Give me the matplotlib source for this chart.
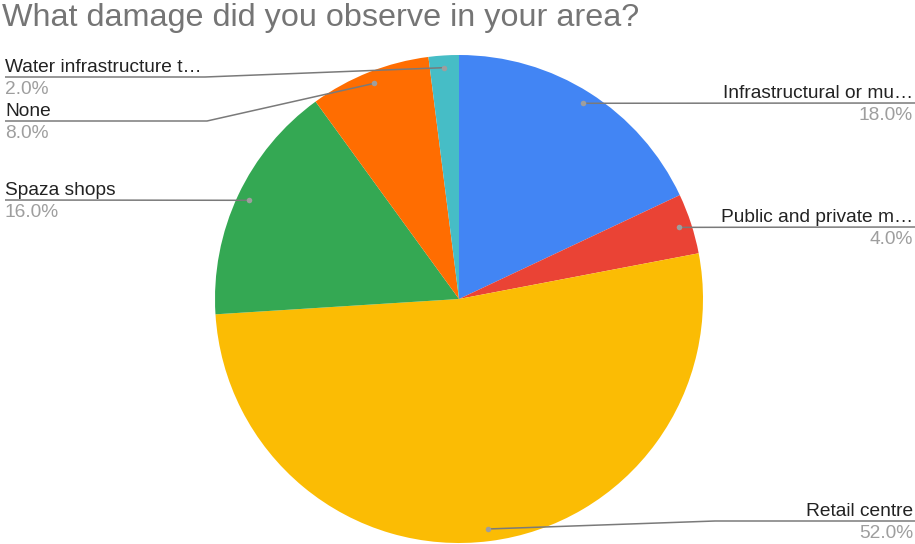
import numpy as np
import matplotlib.pyplot as plt

plt.rcParams['font.family'] = ['Liberation Sans', 'DejaVu Sans']

labels = ["Infrastructural or mu…", "Public and private m…", "Retail centre",
          "Spaza shops", "None", "Water infrastructure t…"]
values = [18.0, 4.0, 52.0, 16.0, 8.0, 2.0]
colors = ["#4285F4", "#EA4335", "#FBBC04", "#34A853", "#FF6D01", "#46BDC6"]

W, H = 915, 544
fig = plt.figure(figsize=(W / 100, H / 100), dpi=100)
ax = fig.add_axes([0, 0, 1, 1])
ax.set_xlim(0, W)
ax.set_ylim(0, H)
ax.set_aspect('equal')
ax.axis('off')

cx, cy, r = 459, H - 299, 244
ax.pie(values, colors=colors, startangle=90, counterclock=False,
       center=(cx, cy), radius=r, wedgeprops=dict(linewidth=0))
ax.set_xlim(0, W)
ax.set_ylim(0, H)

fig.text(2 / W, 1 - 18 / H, "What damage did you observe in your area?",
         fontsize=23.3, color="#757575", va='center', ha='left')

# label layout: (side, line y in px, bend x)
layout = [("R", 103, None), ("R", 227, None), ("R", 521, 715),
          ("L", 200, None), ("L", 121, 207), ("L", 77, 205)]

total = sum(values)
start = 0.0
for lab, val, (side, ly, bend) in zip(labels, values, layout):
    mid = (start + val / 2) / total * 2 * np.pi
    start += val
    dx = cx + 0.95 * r * np.sin(mid)
    dy = cy + 0.95 * r * np.cos(mid)
    y = H - ly
    if side == "R":
        xs = [dx] + ([bend] if bend else []) + [W]
        tx, ha = W - 2, 'right'
    else:
        xs = [dx] + ([bend] if bend else []) + [5]
        tx, ha = 5, 'left'
    ys = [dy] + ([y] if bend else []) + [y]
    ax.plot(xs, ys, color="#7a7a7a", lw=1.1, solid_capstyle='butt')
    ax.plot([dx], [dy], 'o', ms=4, color="#9e9e9e", mec='none')
    ax.text(tx, y + 5, lab, ha=ha, va='baseline', fontsize=13.8, color="#222222")
    ax.text(tx, y - 4, f"{val:.1f}%", ha=ha, va='top', fontsize=13.8, color="#9e9e9e")

fig.savefig("out.png", dpi=100, facecolor='white')
